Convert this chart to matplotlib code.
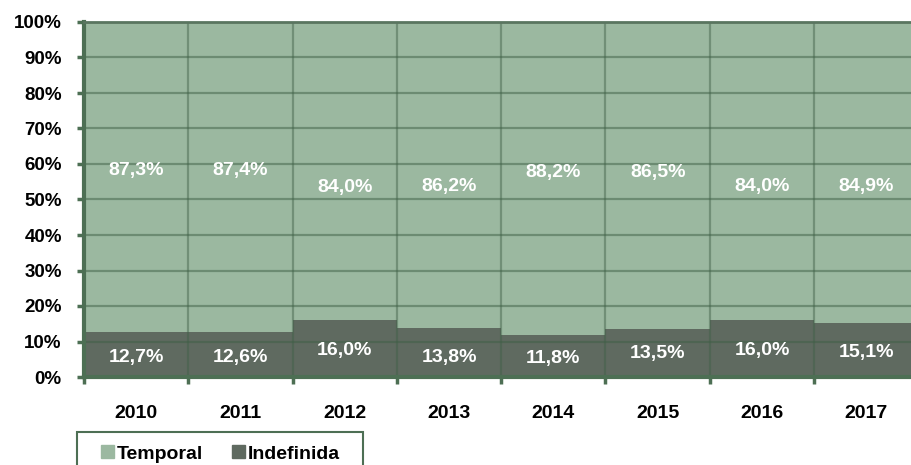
import numpy as np
import matplotlib.pyplot as plt
from matplotlib.ticker import FuncFormatter

plt.rcParams['font.family'] = ['Liberation Sans', 'DejaVu Sans']

# Data
years = ["2010", "2011", "2012", "2013", "2014", "2015", "2016", "2017"]
indefinida = [12.7, 12.6, 16.0, 13.8, 11.8, 13.5, 16.0, 15.1]
temporal = [87.3, 87.4, 84.0, 86.2, 88.2, 86.5, 84.0, 84.9]

# where the data labels sit (as in the original, not centred)
top_label_y = [58.3, 58.3, 53.5, 53.8, 57.7, 57.7, 53.8, 53.8]
low_label_y = [5.6, 5.6, 7.6, 5.6, 5.1, 6.5, 7.6, 7.0]

col_temp = "#9bb8a0"
col_indef = "#5f6a60"
col_axis = "#4d6f54"

fig = plt.figure(figsize=(9.12, 4.65), dpi=100)
W, H = 912, 465
ax = fig.add_axes([84 / W, (H - 377) / H, 8 * 104.3 / W, 355 / H])

x = np.arange(len(years))
ax.bar(x, indefinida, width=1.0, color=col_indef, zorder=1)
ax.bar(x, temporal, width=1.0, bottom=indefinida, color=col_temp, zorder=1)

ax.set_xlim(-0.5, 7.5)
ax.set_ylim(0, 100)

# grid drawn over the bars
for yv in range(10, 100, 10):
    ax.axhline(yv, color="#3f5f46", alpha=0.5, lw=1.6, zorder=2)
for xv in np.arange(0.5, 7.5, 1):
    ax.axvline(xv, color="#3f5f46", alpha=0.45, lw=1.6, zorder=2)

for i in range(len(years)):
    ax.text(x[i], top_label_y[i], f"{temporal[i]:.1f}%".replace(".", ","),
            ha="center", va="center", color="white", fontsize=14,
            fontweight="bold", zorder=3)
    ax.text(x[i], low_label_y[i], f"{indefinida[i]:.1f}%".replace(".", ","),
            ha="center", va="center", color="white", fontsize=14,
            fontweight="bold", zorder=3)

# axes styling
ax.set_yticks(range(0, 101, 10))
ax.yaxis.set_major_formatter(FuncFormatter(lambda v, _: f"{int(v)}%"))
ax.set_xticks(x)
ax.set_xticklabels(years)
ax.set_xticks(np.arange(-0.5, 8.0, 1), minor=True)
ax.tick_params(axis="x", which="major", length=0, pad=20, labelsize=14)
ax.tick_params(axis="x", which="minor", length=5, width=2.5, color=col_axis,
               direction="out")
ax.tick_params(axis="y", length=5, width=2.5, color=col_axis, labelsize=13.5,
               pad=11)
for lab in ax.get_xticklabels() + ax.get_yticklabels():
    lab.set_fontweight("bold")

ax.spines["left"].set_color(col_axis)
ax.spines["left"].set_linewidth(3)
ax.spines["bottom"].set_color(col_axis)
ax.spines["bottom"].set_linewidth(3)
ax.spines["top"].set_color("#5a7560")
ax.spines["top"].set_linewidth(2)
ax.spines["right"].set_visible(False)

# legend box (runs off the bottom of the image, as in the original)
fig.patches.append(plt.Rectangle((77 / W, 1 - 480 / H), 286 / W, 48 / H,
                                 transform=fig.transFigure, fill=False,
                                 edgecolor=col_axis, linewidth=1.5))
handles = [plt.Rectangle((0, 0), 1, 1, color=col_temp),
           plt.Rectangle((0, 0), 1, 1, color=col_indef)]
leg = fig.legend(handles, ["Temporal", "Indefinida"], loc="center left",
                 bbox_to_anchor=(101 / W, 1 - 454 / H), ncol=2, frameon=False,
                 borderaxespad=0, borderpad=0, handlelength=0.65,
                 handleheight=0.65, handletextpad=0.15, columnspacing=1.5,
                 prop={"size": 14, "weight": "bold"})

fig.savefig("out.png", dpi=100)
